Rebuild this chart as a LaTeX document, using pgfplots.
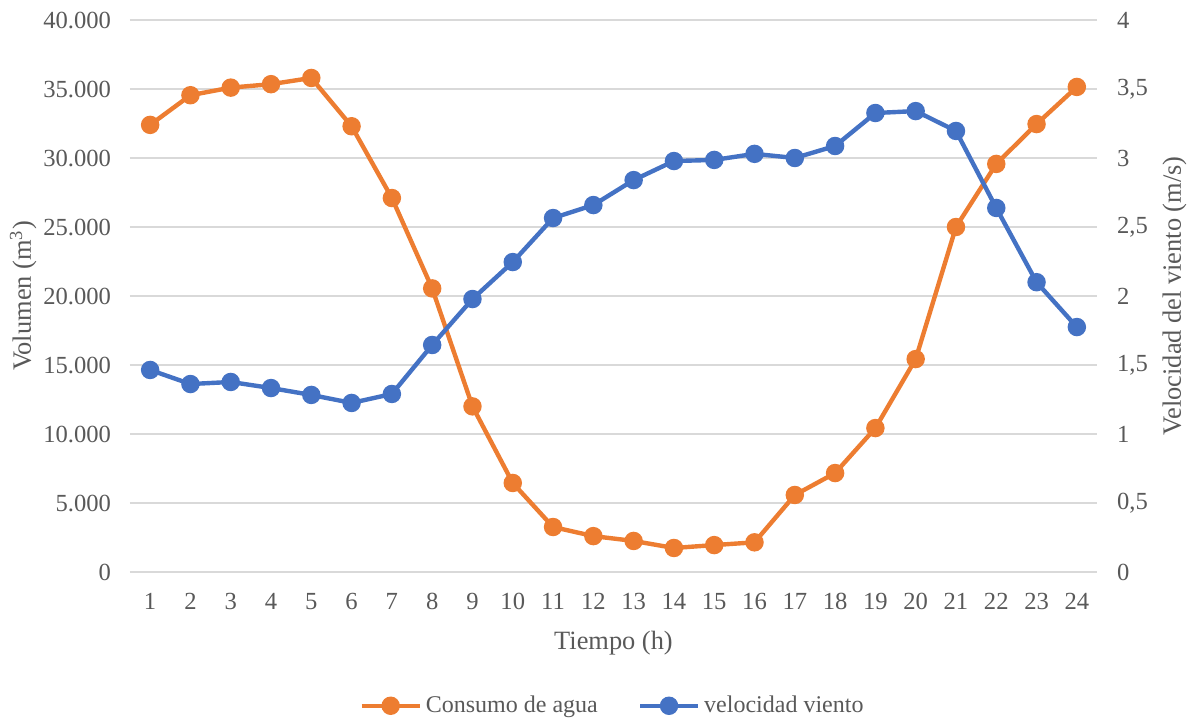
\documentclass[border=0pt]{standalone}
\usepackage{pgfplots}
\pgfplotsset{compat=1.18}
\usepackage{fontspec}
\setmainfont{Liberation Serif}

\definecolor{agua}{HTML}{ED7D31}
\definecolor{viento}{HTML}{4472C4}
\definecolor{txt}{HTML}{595959}
\definecolor{grd}{HTML}{D9D9D9}

\pgfplotsset{
  base/.style={
    scale only axis,
    width=483.5pt, height=276pt,
    at={(0,0)}, anchor=south west,
    xmin=0.5, xmax=24.5,
    axis line style={draw=none},
    major tick length=0pt,
    tick label style={text=txt, font=\fontsize{12.3}{14}\selectfont},
    label style={text=txt, font=\fontsize{13.2}{15}\selectfont},
    /pgf/number format/assume math mode=true,
    scaled y ticks=false,
  },
}

\begin{document}
\begin{tikzpicture}
\begin{axis}[base,
  ymin=0, ymax=40000, ytick distance=5000,
  ymajorgrids, grid style={grd, line width=0.75pt},
  xtick={1,...,24},
  xticklabel style={yshift=-7pt},
  yticklabel style={xshift=-6pt},
  yticklabel={\pgfmathprintnumber[fixed, precision=0, 1000 sep={.}]{\tick}},
  xlabel={Tiempo (h)},
  xlabel style={yshift=-4pt},
  ylabel={Volumen (m\textsuperscript{3})},
  ylabel style={yshift=-3.5pt},
]
\addplot[agua, line width=2.2pt, mark=*, mark size=3.5pt, mark options={solid}] coordinates {
  (1,32400) (2,34550) (3,35100) (4,35350) (5,35800) (6,32300)
  (7,27100) (8,20550) (9,12000) (10,6450) (11,3260) (12,2600)
  (13,2250) (14,1740) (15,1950) (16,2150) (17,5580) (18,7170)
  (19,10430) (20,15430) (21,25000) (22,29570) (23,32460) (24,35150)
};
\end{axis}
\begin{axis}[base,
  axis y line*=right, axis x line=none,
  ymin=0, ymax=4, ytick={0,0.5,...,4},
  yticklabel style={xshift=6.5pt},
  yticklabel={\pgfmathprintnumber[fixed, precision=1, use comma]{\tick}},
  ylabel={Velocidad del viento (m/s)},
  ylabel style={yshift=-0.5pt},
  legend style={at={(0.5,-75pt+1pt)}, anchor=south, draw=none, fill=none,
    legend columns=2, text=txt, font=\fontsize{12}{14}\selectfont,
    /tikz/every even column/.append style={column sep=18pt},
    legend cell align=left, inner sep=0pt},
  legend image code/.code={
    \draw[mark repeat=2, mark phase=2, #1] plot coordinates {(0pt,0pt) (14.5pt,0pt) (29pt,0pt)};
  },
]
\addlegendimage{agua, line width=2.2pt, mark=*, mark size=3.5pt}
\addlegendentry{Consumo de agua}
\addplot[viento, line width=2.2pt, mark=*, mark size=3.5pt, mark options={solid}] coordinates {
  (1,1.464) (2,1.362) (3,1.377) (4,1.333) (5,1.283) (6,1.225)
  (7,1.290) (8,1.645) (9,1.978) (10,2.246) (11,2.565) (12,2.659)
  (13,2.840) (14,2.978) (15,2.986) (16,3.030) (17,3.000) (18,3.087)
  (19,3.326) (20,3.340) (21,3.196) (22,2.638) (23,2.100) (24,1.775)
};
\addlegendentry{velocidad viento}
\end{axis}
\pgfresetboundingbox
\path[use as bounding box] (-65pt,-75pt) rectangle (530pt,286pt);
\end{tikzpicture}
\end{document}
